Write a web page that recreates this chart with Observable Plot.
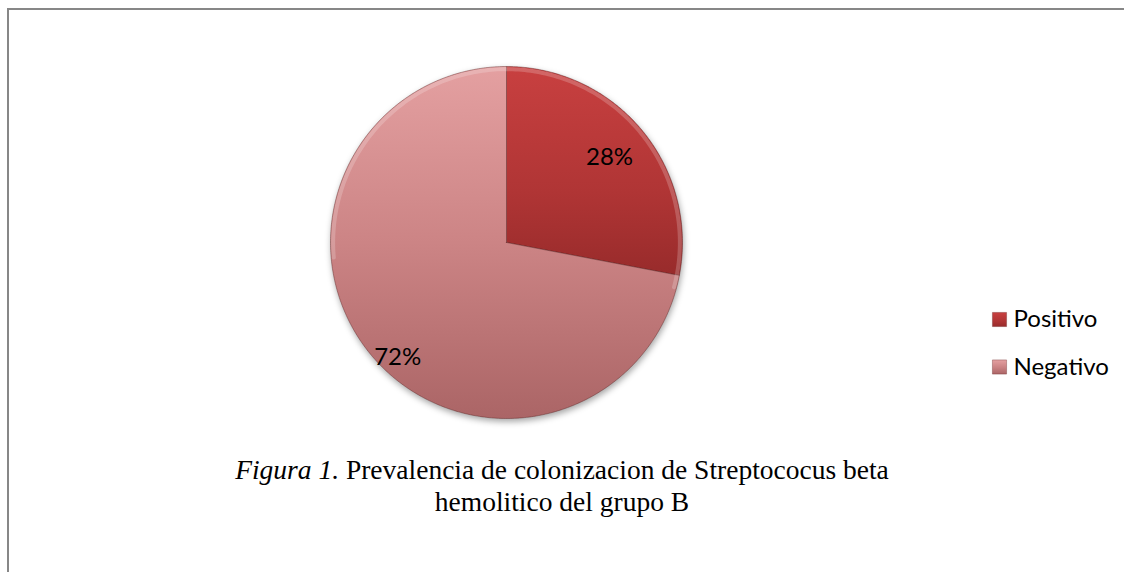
<!DOCTYPE html>
<html>
<head>
<meta charset="utf-8">
<script src="https://cdn.jsdelivr.net/npm/d3@7"></script>
<script src="https://cdn.jsdelivr.net/npm/@observablehq/plot@0.6"></script>
<style>
  html, body { margin: 0; padding: 0; background: #fff; }
  #wrap { position: relative; width: 1124px; height: 572px; overflow: hidden; background: #fff; }
  #frame { position: absolute; left: 7px; top: 8px; width: 1130px; height: 580px;
           border-top: 2px solid #878787; border-left: 2px solid #878787; box-sizing: border-box; }
  #chart { position: absolute; left: 0; top: 0; }
  #caption { position: absolute; left: 0; top: 454px; width: 1124px; text-align: center;
             font-family: "Liberation Serif", "Times New Roman", serif; font-size: 27.5px;
             line-height: 32px; color: #000; }
</style>
</head>
<body>
<div id="wrap">
  <div id="frame"></div>
  <div id="chart"></div>
  <div id="caption"><i>Figura 1.</i> Prevalencia de colonizacion de Streptococus beta<br>hemolitico del grupo B</div>
</div>
<script>
// ---- data ----
const categories = ["Positivo", "Negativo"];
const values = [28, 72];
const labels = ["28%", "72%"];

// ---- geometry derived from data ----
const pie = d3.pie().sort(null).value(d => d)(values);
const slicePts = [];
pie.forEach((p, i) => {
  const key = categories[i];
  slicePts.push({key, x: 0, y: 0});
  const n = Math.max(2, Math.ceil((p.endAngle - p.startAngle) / 0.01));
  for (let k = 0; k <= n; k++) {
    const a = p.startAngle + (p.endAngle - p.startAngle) * k / n;
    slicePts.push({key, x: Math.sin(a), y: Math.cos(a)});
  }
  slicePts.push({key, x: 0, y: 0});
});

// label placement (Excel "best fit"-like tweaks kept in code)
const labelRadius = [0.76, 0.9];
const labelShift = [0, -7 * Math.PI / 180];
const labelData = pie.map((p, i) => {
  const a = (p.startAngle + p.endAngle) / 2 + labelShift[i];
  return {text: labels[i], x: Math.sin(a) * labelRadius[i], y: Math.cos(a) * labelRadius[i]};
});

// rim highlight along top of the pie
const rim = d3.range(-95, 106, 1).map(deg => {
  const a = deg * Math.PI / 180;
  return {x: Math.sin(a) * 0.985, y: Math.cos(a) * 0.985};
});

// legend positions (pixel → data units)
const cx = 506, cy = 242, R = 176;
const px = v => (v - cx) / R;
const py = v => (cy - v) / R;
const legend = categories.map((c, i) => ({key: c, sx: px(999), tx: px(1013), y: py(319 + i * 47.5)}));

const chart = Plot.plot({
  width: 1124,
  height: 440,
  margin: 0,
  x: {domain: [-1, 1], range: [cx - R, cx + R], axis: null},
  y: {domain: [-1, 1], range: [cy + R, cy - R], axis: null},
  color: {type: "ordinal", domain: categories, range: ["url(#gPos)", "url(#gNeg)"]},
  style: {background: "transparent", overflow: "visible"},
  marks: [
    Plot.line(slicePts, {x: "x", y: "y", z: "key", fill: "key", stroke: "#5e2222",
      strokeOpacity: 0.55, strokeWidth: 0.8, curve: "linear-closed"}),
    Plot.line(rim, {x: "x", y: "y", stroke: "#ffffff", strokeOpacity: 0.2, strokeWidth: 4}),
    Plot.text(labelData, {x: "x", y: "y", text: "text", fill: "#000",
      fontFamily: "Lato, 'Open Sans', sans-serif", fontSize: 24}),
    Plot.dot(legend, {x: "sx", y: "y", fill: "key", symbol: "square", r: 8,
      stroke: "#6a2a2a", strokeOpacity: 0.6, strokeWidth: 0.6}),
    Plot.text(legend, {x: "tx", y: "y", text: "key", textAnchor: "start", fill: "#000",
      fontFamily: "Lato, 'Open Sans', sans-serif", fontSize: 24})
  ]
});

const svg = d3.select(chart);
svg.insert("defs", ":first-child").html(`
  <linearGradient id="gPos" x1="0" y1="0" x2="0" y2="1">
    <stop offset="0" stop-color="#c84040"/>
    <stop offset="0.6" stop-color="#b03535"/>
    <stop offset="1" stop-color="#982b2b"/>
  </linearGradient>
  <linearGradient id="gNeg" x1="0" y1="0" x2="0" y2="1">
    <stop offset="0" stop-color="#e4a0a1"/>
    <stop offset="0.5" stop-color="#cc8485"/>
    <stop offset="1" stop-color="#ab6566"/>
  </linearGradient>
`);
svg.select('g[aria-label="line"]').style("filter", "drop-shadow(1px 3px 3px rgba(0,0,0,0.35))");

document.getElementById("chart").appendChild(chart);
</script>
</body>
</html>
